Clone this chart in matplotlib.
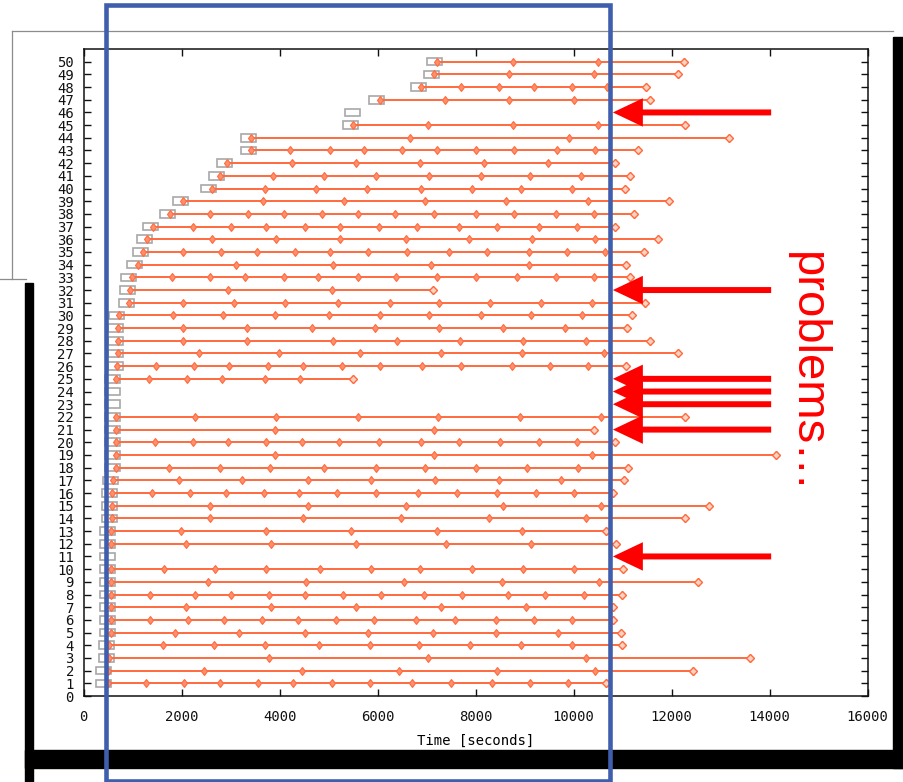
"""Checkpoint timeline of a batch of jobs, with slide annotations on top."""

import matplotlib

matplotlib.use("Agg")
import matplotlib.pyplot as plt
from matplotlib.patches import FancyArrowPatch, Rectangle
from matplotlib.lines import Line2D
from matplotlib.transforms import Affine2D

W, H = 904, 782

# job index -> time the job was queued (grey box), seconds
ROWS = list(range(1, 51))
QUEUED_AT = [
    410, 410, 460, 460, 490, 490, 490, 490, 490, 490,
    490, 490, 490, 520, 520, 520, 540, 580, 580, 580,
    580, 580, 580, 580, 580, 660, 660, 660, 660, 670,
    870, 900, 920, 1040, 1160, 1240, 1360, 1710, 1970, 2550,
    2720, 2870, 3360, 3360, 5440, 5490, 5980, 6830, 7090, 7170,
]

# checkpoint times per job (first = start, last = final checkpoint), seconds
CHECKPOINTS = [
    [500, 1270, 2050, 2780, 3550, 4280, 5070, 5850, 6700, 7490, 8330, 9110, 9890, 10660],
    [500, 2450, 4450, 6440, 8440, 10440, 12440],
    [520, 3780, 7020, 10260, 13600],
    [520, 1620, 2660, 3700, 4800, 5840, 6850, 7890, 8930, 9970, 10990],
    [550, 1870, 3180, 4510, 5810, 7120, 8410, 9680, 10970],
    [550, 1360, 2140, 2860, 3640, 4370, 5150, 5920, 6790, 7570, 8420, 9200, 9970, 10800],
    [550, 2080, 3820, 5550, 7290, 9020, 10800],
    [550, 1360, 2280, 3000, 3780, 4510, 5290, 6070, 6940, 7720, 8650, 9420, 10210, 10990],
    [550, 2540, 4540, 6530, 8530, 10520, 12530],
    [550, 1650, 2690, 3730, 4830, 5870, 6870, 7920, 8960, 10000, 11010],
    [],
    [550, 2080, 3820, 5550, 7400, 9130, 10870],
    [550, 1990, 3730, 5460, 7210, 8940, 10660],
    [580, 2570, 4480, 6470, 8270, 10260, 12270],
    [580, 2570, 4570, 6570, 8560, 10550, 12760],
    [570, 1390, 2180, 2900, 3680, 4400, 5170, 5960, 6830, 7610, 8440, 9230, 10010, 10810],
    [610, 1940, 3240, 4570, 5870, 7180, 8480, 9740, 11030],
    [660, 1740, 2780, 3810, 4910, 5960, 6970, 8010, 9050, 10090, 11110],
    [660, 3910, 7150, 10380, 14130],
    [660, 1450, 2230, 2950, 3730, 4460, 5220, 6020, 6880, 7660, 8500, 9290, 10060, 10850],
    [660, 3900, 7150, 10420],
    [660, 2280, 3930, 5590, 7230, 8900, 10550, 12270],
    [],
    [],
    [660, 1330, 2110, 2830, 3700, 4420, 5500],
    [680, 1480, 2250, 2970, 3760, 4480, 5270, 6050, 6910, 7700, 8740, 9510, 10290, 11070],
    [700, 2350, 3990, 5640, 7290, 8950, 10610, 12120],
    [700, 2020, 3330, 5090, 6390, 7680, 8970, 10260, 11560],
    [700, 2020, 3330, 4660, 5950, 7250, 8550, 9830, 11090],
    [720, 1820, 2850, 3910, 5000, 6050, 7050, 8100, 9130, 10170, 11190],
    [920, 2020, 3060, 4110, 5200, 6250, 7250, 8300, 9340, 10380, 11450],
    [950, 2950, 5060, 7130],
    [980, 1800, 2570, 3290, 4080, 4790, 5590, 6370, 7220, 8000, 8850, 9630, 10420, 11140],
    [1100, 3100, 5090, 7090, 9080, 11070],
    [1220, 2020, 2800, 3530, 4310, 5030, 5810, 6590, 7460, 8240, 9090, 9860, 10640, 11430],
    [1300, 2630, 3930, 5240, 6570, 7870, 9160, 10440, 11720],
    [1420, 2230, 3000, 3730, 4510, 5230, 6020, 6800, 7660, 8440, 9290, 10060, 10850],
    [1770, 2570, 3360, 4080, 4860, 5590, 6360, 7140, 8000, 8790, 9640, 10420, 11230],
    [2030, 3670, 5310, 6970, 8620, 10290, 11950],
    [2610, 3700, 4740, 5780, 6880, 7930, 8930, 9970, 11050],
    [2780, 3870, 4910, 5960, 7050, 8100, 9110, 10150, 11140],
    [2930, 4250, 5560, 6870, 8180, 9480, 10850],
    [3420, 4210, 5020, 5720, 6500, 7220, 8000, 8790, 9660, 10440, 11310],
    [3410, 6670, 9910, 13170],
    [5490, 7020, 8760, 10490, 12270],
    [],
    [6050, 7380, 8680, 10000, 11550],
    [6890, 7700, 8470, 9190, 9970, 10680, 11480],
    [7150, 8680, 10410, 12120],
    [7220, 8760, 10490, 12250],
]

X_TICKS = list(range(0, 16001, 2000))
Y_TICKS = list(range(0, 51))
PROBLEM_ROWS = [46, 32, 25, 24, 23, 21, 11]
ARROW_TIP, ARROW_TAIL = 10800, 14030

LINE = "#ff6a3d"
FACE = "#ff8f6b"
GREY = "#a8a8a8"
BLUE = "#3f5fae"
RED = "#ff0000"

plt.rcParams["font.family"] = ["DejaVu Sans Mono"]

fig = plt.figure(figsize=(W / 100, H / 100), dpi=100)
ax = fig.add_axes([83.6 / W, 1 - 696 / H, 784.1 / W, 647.5 / H])

box_w, box_h = 306, 0.6
for row, queued, pts in zip(ROWS, QUEUED_AT, CHECKPOINTS):
    ax.add_patch(Rectangle((queued - box_w / 2, row - box_h / 2), box_w, box_h,
                           fill=False, edgecolor=GREY, linewidth=1.2, zorder=2))
    if not pts:
        continue
    ax.plot(pts, [row] * len(pts), color=LINE, linewidth=1.4, marker="d",
            markersize=4.5, markerfacecolor=FACE, markeredgecolor=LINE,
            markeredgewidth=0.8, zorder=3)
    ax.plot(pts[-1], row, marker="D", markersize=4.5, markerfacecolor="#ffd2c2",
            markeredgecolor=LINE, markeredgewidth=1.0, zorder=4)

ax.set_xlim(0, 16000)
ax.set_ylim(0, 51.04)
ax.set_xticks(X_TICKS)
ax.set_yticks(Y_TICKS)
ax.tick_params(direction="in", length=5, width=1, top=True, right=True,
               labelsize=10, colors="#111111")
ax.tick_params(axis="y", pad=7)
ax.tick_params(axis="x", pad=10)
ax.set_xlabel("Time [seconds]", fontsize=10, labelpad=7)
for spine in ax.spines.values():
    spine.set_linewidth(1.1)
    spine.set_color("#111111")

# slide decorations, in screen pixels measured from the top-left corner
px = Affine2D().scale(1 / W, -1 / H).translate(0, 1) + fig.transFigure


def seg(xs, ys, **kw):
    fig.add_artist(Line2D(xs, ys, transform=px, **kw))


seg([12, 893], [31, 31], color="#8c8c8c", linewidth=0.9, zorder=1)
seg([12, 12], [31, 279], color="#8c8c8c", linewidth=0.9, zorder=1)
seg([0, 26], [279, 279], color="#8c8c8c", linewidth=0.9, zorder=1)
fig.add_artist(Rectangle((25, 283), 8.5, 499, transform=px, color="black", zorder=1))
fig.add_artist(Rectangle((893.5, 37), 10.5, 731, transform=px, color="black", zorder=1))
fig.add_artist(Rectangle((25, 750), 879, 18, transform=px, color="black", zorder=1))

fig.add_artist(Rectangle((106, 5), 503.7, 775.5, transform=px, fill=False,
                         edgecolor=BLUE, linewidth=3.3, zorder=5))

for row in PROBLEM_ROWS:
    fig.add_artist(FancyArrowPatch(
        (ARROW_TAIL, row), (ARROW_TIP, row), transform=ax.transData,
        arrowstyle="simple,head_length=21.6,head_width=20.5,tail_width=4.3",
        mutation_scale=1, shrinkA=0, shrinkB=0, color=RED, linewidth=0, zorder=6))

fig.text(807 / W, 1 - 372 / H, "problems…", rotation=-90, ha="center",
         va="center", fontsize=34, color=RED, family="Liberation Sans", zorder=6)

fig.savefig("out.png", dpi=100, facecolor="white")
